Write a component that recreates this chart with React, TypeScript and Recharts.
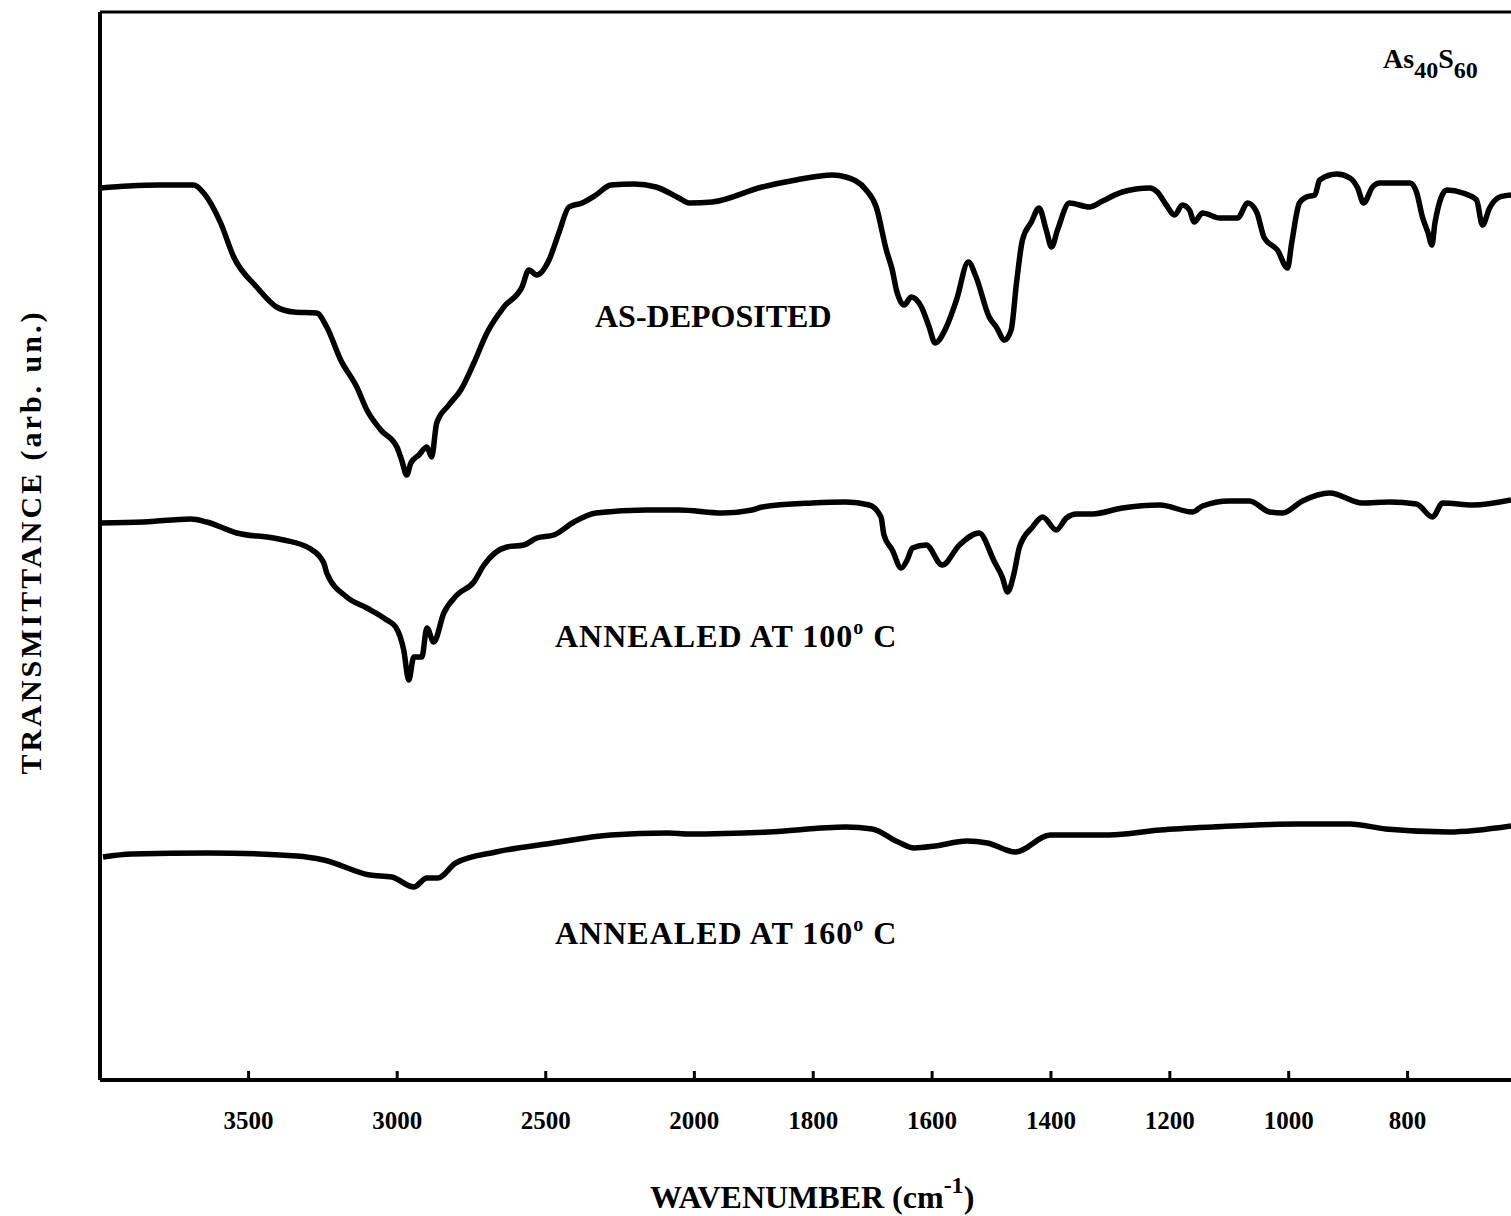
import React from 'react';
import { LineChart, Line, XAxis, YAxis, ReferenceLine } from 'recharts';

const W = 1511;
const H = 1216;

// wavenumbers (cm-1) and transmittance (arb. un.)
const asDepositedWn = [4000, 3904, 3803, 3685, 3651, 3594, 3550, 3473, 3406, 3348, 3271, 3237, 3190, 3136, 3102, 3055, 3001, 2985, 2968, 2954, 2927, 2900, 2884, 2867, 2826, 2786, 2742, 2698, 2641, 2580, 2557, 2530, 2489, 2456, 2422, 2378, 2331, 2281, 2203, 2129, 2052, 2018, 1970, 1886, 1829, 1768, 1745, 1711, 1694, 1677, 1667, 1660, 1647, 1635, 1618, 1605, 1595, 1576, 1559, 1539, 1526, 1504, 1492, 1478, 1467, 1458, 1448, 1433, 1420, 1408, 1399, 1389, 1369, 1335, 1313, 1280, 1234, 1221, 1206, 1192, 1179, 1167, 1159, 1145, 1116, 1086, 1069, 1054, 1041, 1019, 1002, 995, 982, 970, 956, 948, 919, 897, 884, 874, 859, 847, 796, 785, 775, 766, 759, 754, 734, 707, 684, 674, 662, 645, 626];
const asDepositedT = [89.2, 89.4, 89.5, 89.5, 88.7, 85.7, 82.3, 79.3, 77.3, 76.8, 76.7, 75.3, 72.0, 69.3, 67.0, 65.0, 63.3, 62.0, 60.5, 61.7, 62.5, 63.3, 62.3, 65.7, 67.5, 69.0, 71.7, 74.7, 77.3, 79.3, 81.0, 80.5, 82.0, 84.7, 87.3, 87.7, 88.5, 89.5, 89.6, 89.3, 88.2, 87.7, 87.8, 89.3, 90.0, 90.5, 90.3, 89.0, 87.3, 83.0, 81.0, 79.0, 77.5, 78.3, 77.3, 75.3, 73.7, 75.3, 78.0, 81.8, 80.3, 76.3, 75.3, 74.0, 75.0, 79.7, 84.0, 85.8, 87.2, 85.0, 83.3, 85.0, 87.7, 87.3, 87.9, 88.8, 89.2, 88.8, 87.5, 86.5, 87.5, 87.0, 85.8, 86.7, 86.2, 86.2, 87.7, 86.8, 84.2, 83.0, 81.2, 83.7, 87.7, 88.3, 88.5, 90.0, 90.6, 90.2, 89.2, 87.7, 89.3, 89.7, 89.7, 88.8, 86.3, 84.8, 83.5, 85.7, 89.0, 88.7, 88.0, 85.5, 87.2, 88.3, 88.5];

const annealed100Wn = [4000, 3853, 3695, 3641, 3540, 3416, 3382, 3291, 3247, 3237, 3170, 3102, 3035, 3005, 2978, 2961, 2944, 2917, 2900, 2877, 2843, 2799, 2742, 2708, 2631, 2574, 2530, 2473, 2405, 2331, 2163, 2052, 1953, 1903, 1886, 1802, 1745, 1706, 1686, 1681, 1667, 1652, 1642, 1633, 1610, 1583, 1554, 1521, 1495, 1482, 1473, 1462, 1453, 1431, 1414, 1391, 1374, 1357, 1330, 1280, 1217, 1162, 1145, 1100, 1066, 1032, 1010, 977, 931, 876, 830, 785, 758, 741, 690, 626];
const annealed100T = [55.7, 55.8, 56.1, 55.8, 54.7, 54.2, 54.0, 53.1, 51.7, 50.7, 48.3, 47.2, 46.0, 45.3, 43.0, 40.0, 42.3, 42.3, 45.2, 43.8, 46.7, 48.5, 49.8, 51.5, 53.3, 53.5, 54.2, 54.5, 55.8, 56.7, 57.0, 57.0, 56.7, 57.0, 57.3, 57.7, 57.8, 57.5, 56.3, 54.5, 53.0, 51.2, 52.0, 53.2, 53.5, 51.5, 53.5, 54.7, 51.8, 50.3, 48.8, 50.7, 53.3, 55.3, 56.3, 55.0, 56.2, 56.6, 56.6, 57.2, 57.5, 56.8, 57.4, 57.9, 57.9, 56.8, 56.7, 57.9, 58.7, 57.7, 57.8, 57.6, 56.3, 57.7, 57.5, 58.0];

const annealed160Wn = [3990, 3894, 3635, 3338, 3247, 3092, 3018, 2944, 2900, 2863, 2803, 2668, 2476, 2281, 2089, 2018, 1876, 1745, 1701, 1657, 1630, 1595, 1542, 1507, 1460, 1401, 1303, 1216, 1127, 987, 897, 837, 731, 626];
const annealed160T = [22.3, 22.6, 22.7, 22.4, 22.0, 20.5, 20.3, 19.3, 20.2, 20.2, 21.7, 22.8, 23.7, 24.5, 24.7, 24.6, 24.8, 25.3, 25.1, 23.8, 23.2, 23.4, 23.9, 23.7, 22.8, 24.5, 24.5, 25.0, 25.3, 25.6, 25.6, 25.1, 24.8, 25.4];

const tickWn = [3500, 3000, 2500, 2000, 1800, 1600, 1400, 1200, 1000, 800];

// the wavenumber scale doubles below 2000 cm-1
const toPos = (wn: number) => (wn >= 2000 ? 4000 - wn : 2000 + 2 * (2000 - wn));
const toWn = (p: number) => (p <= 2000 ? 4000 - p : 2000 - (p - 2000) / 2);

const build = (wn: number[], t: number[]) => wn.map((w, i) => ({ p: toPos(w), t: t[i] }));

const asDeposited = build(asDepositedWn, asDepositedT);
const annealed100 = build(annealed100Wn, annealed100T);
const annealed160 = build(annealed160Wn, annealed160T);

const FONT = '"Liberation Serif", "Times New Roman", serif';

function WaveTick(props: any) {
  const { x, y, payload } = props;
  return (
    <g>
      <line x1={x} x2={x} y1={y - 9} y2={y} stroke="#000" strokeWidth={3} />
      <text x={x} y={y + 49} textAnchor="middle" fontFamily={FONT} fontWeight="bold" fontSize={25} fill="#000">
        {Math.round(toWn(payload.value))}
      </text>
    </g>
  );
}

export default function App() {
  const curve = { type: 'monotone' as const, dataKey: 't', stroke: '#000', strokeWidth: 5.5, dot: false, isAnimationActive: false, strokeLinejoin: 'round' as const };
  return (
    <div style={{ position: 'absolute', left: 0, top: 0, width: W, height: H, background: '#fff' }}>
      <LineChart width={W} height={H} margin={{ top: 12, right: 0, bottom: 0, left: 100 }}>
        <XAxis
          dataKey="p"
          type="number"
          domain={[0, 4748]}
          allowDataOverflow
          ticks={tickWn.map(toPos)}
          tick={<WaveTick />}
          tickSize={0}
          tickMargin={0}
          tickLine={false}
          height={136}
          axisLine={{ stroke: '#000', strokeWidth: 4 }}
        />
        <YAxis type="number" domain={[0, 106.8]} hide />
        <ReferenceLine y={106.8} stroke="#000" strokeWidth={3} />
        <ReferenceLine x={0} stroke="#000" strokeWidth={4} />
        <Line data={asDeposited} {...curve} />
        <Line data={annealed100} {...curve} />
        <Line data={annealed160} {...curve} />
      </LineChart>
      <svg width={W} height={H} style={{ position: 'absolute', left: 0, top: 0, pointerEvents: 'none' }}>
        <g fontFamily={FONT} fontWeight="bold" fill="#000">
          <text x={1383} y={68} fontSize={28}>
            As<tspan dy={10} fontSize={24}>40</tspan>
            <tspan dy={-10} fontSize={28}>S</tspan>
            <tspan dy={10} fontSize={24}>60</tspan>
          </text>
          <text x={595} y={327} fontSize={32}>AS-DEPOSITED</text>
          <text x={555} y={647} fontSize={32} letterSpacing={1}>
            ANNEALED AT 100<tspan dy={-13} fontSize={20}>o</tspan>
            <tspan dy={13} fontSize={32}> C</tspan>
          </text>
          <text x={555} y={944} fontSize={32} letterSpacing={1}>
            ANNEALED AT 160<tspan dy={-13} fontSize={20}>o</tspan>
            <tspan dy={13} fontSize={32}> C</tspan>
          </text>
          <text x={650} y={1208} fontSize={32}>
            WAVENUMBER (cm<tspan dy={-15} fontSize={24}>-1</tspan>
            <tspan dy={15} fontSize={32}>)</tspan>
          </text>
          <text x={0} y={0} fontSize={30} letterSpacing={3} textAnchor="middle" transform="translate(41 542) rotate(-90)">
            TRANSMITTANCE (arb. un.)
          </text>
        </g>
      </svg>
    </div>
  );
}
